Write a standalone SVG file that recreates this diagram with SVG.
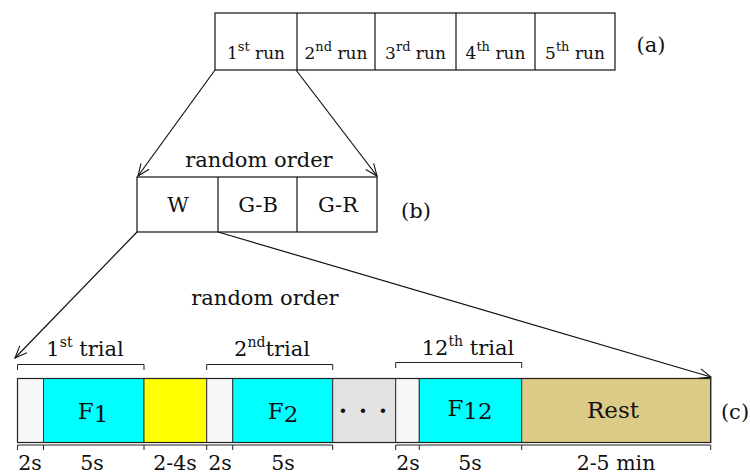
<svg xmlns="http://www.w3.org/2000/svg" width="750" height="475" viewBox="0 0 750 475">
<style>
text{font-family:"DejaVu Serif","Liberation Serif",serif;fill:#111}
.box{fill:#fff;stroke:#111;stroke-width:1.2}
.lbl{font-size:17px;text-anchor:middle}
.mid{font-size:21px;text-anchor:middle}
.big{font-size:23px;text-anchor:middle}
.sm{font-size:20.5px;text-anchor:middle}
.conn{stroke:#111;stroke-width:1.2;fill:none}
.brk{stroke:#222;stroke-width:1;fill:none}
.cell{stroke:#333;stroke-width:1}
</style>
<defs>
<marker id="arr" markerUnits="userSpaceOnUse" markerWidth="16" markerHeight="14" refX="13" refY="6" orient="auto">
<path d="M1,1 L13,6 L1,11" fill="none" stroke="#111" stroke-width="1.1"/>
</marker>
</defs>

<g id="runs">
<rect class="box" x="215" y="13" width="400" height="57"/>
<line class="box" x1="297" y1="13" x2="297" y2="70"/>
<line class="box" x1="375" y1="13" x2="375" y2="70"/>
<line class="box" x1="456" y1="13" x2="456" y2="70"/>
<line class="box" x1="535" y1="13" x2="535" y2="70"/>
<text class="lbl" x="256" y="59">1<tspan font-size="13" dy="-8">st</tspan><tspan dy="8"> run</tspan></text>
<text class="lbl" x="336" y="59">2<tspan font-size="13" dy="-8">nd</tspan><tspan dy="8"> run</tspan></text>
<text class="lbl" x="415.5" y="59">3<tspan font-size="13" dy="-8">rd</tspan><tspan dy="8"> run</tspan></text>
<text class="lbl" x="495.5" y="59">4<tspan font-size="13" dy="-8">th</tspan><tspan dy="8"> run</tspan></text>
<text class="lbl" x="575" y="59">5<tspan font-size="13" dy="-8">th</tspan><tspan dy="8"> run</tspan></text>
<text class="mid" x="651" y="52">(a)</text>
</g>

<g id="conditions">
<text class="mid" x="259" y="167">random order</text>
<rect class="box" x="137" y="177" width="240" height="55"/>
<line class="box" x1="218" y1="177" x2="218" y2="232"/>
<line class="box" x1="297" y1="177" x2="297" y2="232"/>
<text class="mid" x="178" y="212">W</text>
<text class="mid" x="258" y="212">G-B</text>
<text class="mid" x="338" y="212">G-R</text>
<text class="mid" x="416" y="218">(b)</text>
</g>

<g id="connectors">
<line class="conn" x1="215" y1="70" x2="138" y2="176" marker-end="url(#arr)"/>
<line class="conn" x1="296" y1="70" x2="377" y2="176" marker-end="url(#arr)"/>
<line class="conn" x1="137" y1="232" x2="15" y2="358" marker-end="url(#arr)"/>
<line class="conn" x1="218" y1="232" x2="711" y2="377" marker-end="url(#arr)"/>
</g>

<g id="trials">
<text class="mid" x="265" y="305">random order</text>
<rect class="cell" x="17.5" y="378.5" width="26" height="64" fill="#f7f7f7"/>
<rect class="cell" x="43.5" y="378.5" width="100.5" height="64" fill="#00ffff"/>
<rect class="cell" x="144" y="378.5" width="62.7" height="64" fill="#ffff00" stroke="#000"/>
<rect class="cell" x="206.7" y="378.5" width="26" height="64" fill="#f7f7f7"/>
<rect class="cell" x="232.7" y="378.5" width="100" height="64" fill="#00ffff"/>
<rect class="cell" x="332.7" y="378.5" width="63" height="64" fill="#e2e2e2"/>
<rect class="cell" x="395.7" y="378.5" width="23.6" height="64" fill="#f7f7f7"/>
<rect class="cell" x="419.3" y="378.5" width="102.4" height="64" fill="#00ffff"/>
<rect class="cell" x="521.7" y="378.5" width="189" height="64" fill="#dccb86"/>
<rect x="17.5" y="378.5" width="693.2" height="64" fill="none" stroke="#222" stroke-width="1.2"/>
<text font-size="24" font-weight="bold" x="343 363 383" y="413" text-anchor="middle">...</text>
<text class="big" x="93" y="419">F<tspan dy="3">1</tspan></text>
<text class="big" x="283" y="419">F<tspan dy="3">2</tspan></text>
<text class="big" x="470" y="416">F<tspan dy="3">12</tspan></text>
<text class="big" x="613" y="418">Rest</text>
<text class="mid" x="735" y="419">(c)</text>

<path class="brk" d="M17.5,370 V364.5 H144 V370"/>
<path class="brk" d="M206.7,370 V364.5 H332.7 V370"/>
<path class="brk" d="M395.7,368 V362.5 H521.7 V368"/>
<text class="mid" x="85" y="356">1<tspan font-size="14" dy="-9">st</tspan><tspan dy="9"> trial</tspan></text>
<text class="mid" x="272" y="356">2<tspan font-size="14" dy="-9">nd</tspan><tspan dy="9">trial</tspan></text>
<text class="mid" x="468" y="355">12<tspan font-size="14" dy="-9">th</tspan><tspan dy="9"> trial</tspan></text>

<path class="brk" d="M17.5,450 V445 H43.5 M43.5,450 V445 H144 M144,450 V445 H206.7 M206.7,450 V445 H232.7 M232.7,450 V445 H332.7 V450"/>
<path class="brk" d="M395.7,450 V445 H419.3 M419.3,450 V445 H521.7 M521.7,450 V445 H710.7 V450"/>
<text class="sm" x="30" y="470">2s</text>
<text class="sm" x="92" y="470">5s</text>
<text class="sm" x="175" y="470">2-4s</text>
<text class="sm" x="220" y="470">2s</text>
<text class="sm" x="283" y="470">5s</text>
<text class="sm" x="408" y="470">2s</text>
<text class="sm" x="470" y="470">5s</text>
<text class="sm" x="616" y="470">2-5 min</text>
</g>
</svg>
